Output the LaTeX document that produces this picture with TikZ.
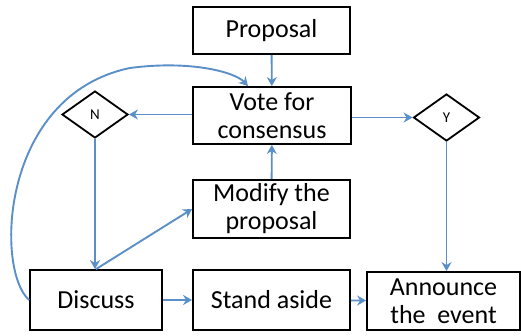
\documentclass[tikz,border=0pt]{standalone}
\usepackage{fontspec}
\setmainfont{Carlito}
\usetikzlibrary{shapes.geometric,arrows.meta}
\definecolor{flowblue}{HTML}{5B8FC8}
\tikzset{
  stepbox/.style={rectangle, draw=black, line width=1.8pt, align=center,
    font=\fontsize{26}{28}\selectfont, inner sep=0pt},
  choice/.style={diamond, draw=black, line width=1.8pt, aspect=1.4,
    minimum width=66pt, minimum height=47pt, inner sep=0pt,
    font=\fontsize{15}{15}\selectfont},
  flow/.style={draw=flowblue, line width=1.9pt, -{Stealth[length=9pt,width=10pt]}}
}
\begin{document}
\begin{tikzpicture}[x=1pt, y=-1pt]
\useasboundingbox (0,0) rectangle (521,335);
% boxes
\node [stepbox, minimum width=157pt, minimum height=47pt] (prop) at (271.5,30.5) {Proposal};
\node [stepbox, minimum width=158pt, minimum height=57pt] (vote) at (272,115.5) {Vote for\\consensus};
\node [stepbox, minimum width=157pt, minimum height=58pt] (modify) at (271.5,209) {Modify the\\proposal};
\node [stepbox, minimum width=132pt, minimum height=60pt] (discuss) at (96,300) {Discuss};
\node [stepbox, minimum width=157pt, minimum height=60pt] (aside) at (271.5,300) {Stand aside};
\node [stepbox, minimum width=153pt, minimum height=58pt] (announce) at (443.5,301) {Announce\\the\ \ event};
% decisions
\node [choice] (no) at (95,114.5) {N};
\node [choice] (yes) at (446.5,117.5) {Y};
% connectors
\draw [flow] (prop) -- (vote);
\draw [flow] (vote.west |- no) -- (no.east);
\draw [flow] (vote.east |- yes) -- (yes.west);
\draw [flow] (modify) -- (vote);
\draw [flow] (no.south) -- (no.south |- discuss.north);
\draw [flow] (discuss.north) -- (modify.west);
\draw [flow] (discuss) -- (aside);
\draw [flow] (aside) -- (announce);
\draw [flow] (yes.south) -- (yes.south |- announce.north);
\draw [flow] (discuss.west) .. controls (-5,270) and (0,95) .. (130,68)
  .. controls (190,60) and (235,72) .. ([xshift=-24pt]vote.north);
\end{tikzpicture}
\end{document}
